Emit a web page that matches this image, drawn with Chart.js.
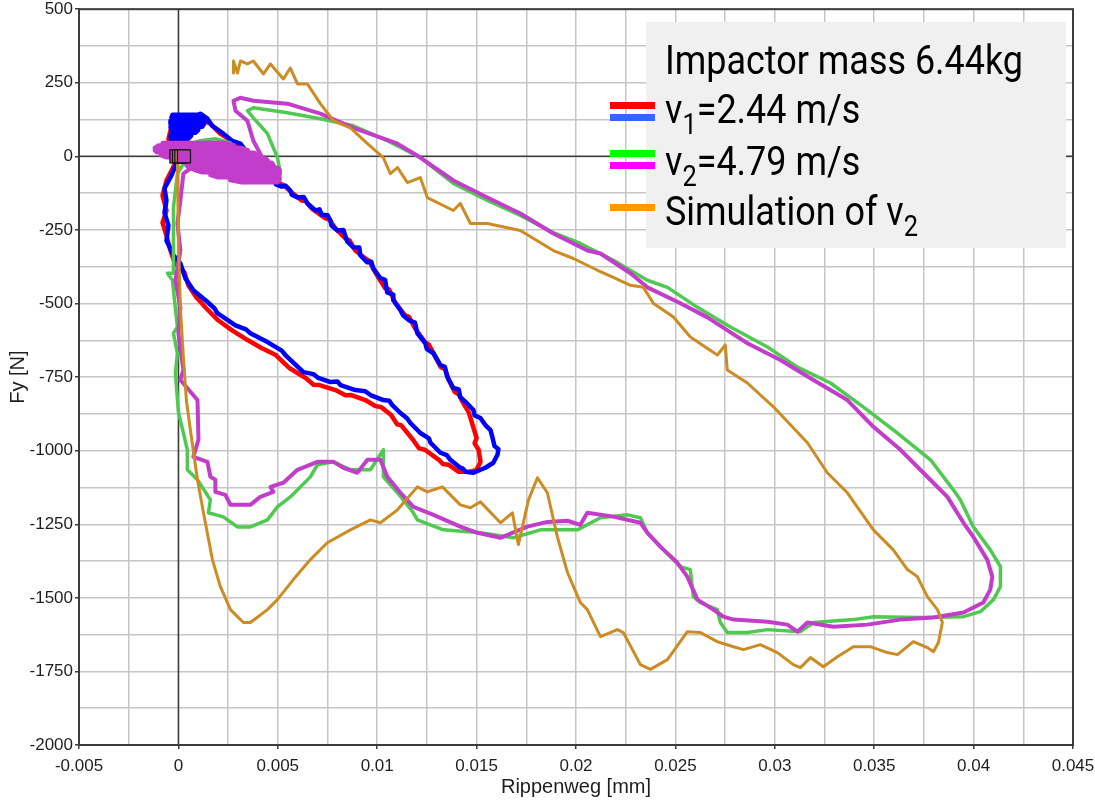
<!DOCTYPE html>
<html>
<head>
<meta charset="utf-8">
<script src="https://cdn.jsdelivr.net/npm/chart.js@4.4.0/dist/chart.umd.min.js"></script>
<style>
    html, body { margin: 0; padding: 0; background: #fff; }
    #wrap { position: relative; width: 1095px; height: 801px; overflow: hidden; }
    #chart { position: absolute; left: 0; top: -3px; }
</style>
</head>
<body>
<div id="wrap"><canvas id="chart" width="1095" height="804"></canvas></div>
<script>
// Rippenweg [mm] / Fy [N] - points lus depuis le graphique (x, y)

// v1 = 2.44 m/s, essai a (rouge)
const v1RunA = [
    [0, 0], [-0.0004, 19], [-0.0005, 60], [-0.0003, 114], [0.0001, 131], [0.0006, 131], [0.0011, 128],
    [0.0016, 111], [0.0021, 77], [0.0029, 43], [0.0034, 13], [0.0037, -14], [0.004, -48], [0.0043, -50],
    [0.0046, -76], [0.0051, -92], [0.0053, -98], [0.0057, -123], [0.0062, -150], [0.0064, -152],
    [0.0067, -177], [0.0074, -211], [0.0076, -215], [0.0079, -245], [0.0084, -279], [0.0086, -285],
    [0.0089, -320], [0.0094, -347], [0.0096, -355], [0.0099, -394], [0.0104, -448], [0.0106, -452],
    [0.0109, -496], [0.0114, -540], [0.0116, -545], [0.0119, -584], [0.0124, -631], [0.0126, -640],
    [0.0128, -665], [0.0132, -716], [0.0134, -722], [0.0136, -760], [0.0139, -801], [0.0141, -808],
    [0.0143, -835], [0.0146, -869], [0.0147, -890], [0.0148, -913], [0.015, -957], [0.0149, -975],
    [0.0151, -997], [0.0152, -1038], [0.015, -1065], [0.0146, -1072], [0.0141, -1072], [0.0136, -1048],
    [0.0133, -1045], [0.0131, -1031], [0.0124, -997], [0.0121, -992], [0.0118, -963], [0.0112, -913],
    [0.011, -910], [0.0107, -879], [0.0102, -852], [0.0099, -848], [0.0094, -828], [0.0087, -811],
    [0.0084, -812], [0.0079, -794], [0.0071, -777], [0.0068, -776], [0.0064, -753], [0.0056, -720],
    [0.0049, -675], [0.0042, -652], [0.0035, -625], [0.0027, -591], [0.002, -557], [0.0014, -516],
    [0.0009, -479], [0.0005, -438], [0.0003, -394], [-0.0002, -360], [-0.0004, -320], [-0.0006, -269],
    [-0.0008, -225], [-0.0006, -184], [-0.0008, -133], [-0.0006, -82], [-0.0003, -42], [0, 0]
];

// v1 = 2.44 m/s, essai b (bleu) - amas au-dessus de l'origine
const v1RunB = [
    [0, 0], [-0.0003, 26], [-0.0004, 70], [-0.0003, 60], [0.0005, 60], [0.00065, 70], [-0.0003, 70],
    [-0.00035, 80], [0.00086, 80], [0.001, 90], [-0.00035, 90], [-0.0004, 101], [0.0012, 101],
    [0.0013, 111], [-0.0004, 111], [-0.0004, 121], [0.00136, 121], [0.00126, 131], [-0.00035, 131],
    [-0.0003, 141], [0.001, 141], [0.0011, 145], [0.00146, 128], [0.0017, 104],
    [0.00226, 77], [0.0027, 53], [0.00312, 43], [0.0034, 19], [0.00362, -4], [0.0038, -31],
    [0.004, -55], [0.0044, -69], [0.00488, -82], [0.0049, -95], [0.0052, -103], [0.0054, -100], [0.00563, -116],
    [0.0057, -130], [0.006, -140], [0.0063, -138], [0.00649, -160], [0.0069, -184], [0.0071, -180],
    [0.0072, -198], [0.0075, -200], [0.00765, -218], [0.0077, -235], [0.008, -252], [0.0083, -250],
    [0.0084, -272], [0.0085, -290], [0.0088, -309], [0.0091, -310], [0.00915, -336], [0.0095, -360],
    [0.0097, -358], [0.0098, -380], [0.01016, -414], [0.0104, -420], [0.0105, -462], [0.0108, -470],
    [0.01081, -489], [0.01117, -523], [0.0113, -540], [0.0116, -557], [0.0119, -565], [0.01202, -601],
    [0.01242, -635], [0.0125, -655], [0.01283, -669], [0.01318, -709], [0.0134, -715], [0.01353, -750],
    [0.01383, -787], [0.0141, -792], [0.01418, -818], [0.0145, -838], [0.01484, -862], [0.0149, -880],
    [0.01519, -889], [0.01544, -913], [0.0157, -930], [0.01579, -953], [0.0159, -984], [0.0161, -995],
    [0.01605, -1014], [0.01584, -1041], [0.01544, -1058], [0.01484, -1075], [0.01444, -1072], [0.0143, -1060],
    [0.01418, -1058], [0.01368, -1031], [0.0135, -1015], [0.01318, -1007], [0.01268, -973], [0.0126, -958],
    [0.01217, -940], [0.01167, -906], [0.0115, -890], [0.01117, -872], [0.01076, -845], [0.0106, -830],
    [0.01031, -828], [0.00966, -811], [0.0094, -798], [0.0089, -794], [0.00815, -777], [0.008, -765],
    [0.00765, -767], [0.00704, -753], [0.0068, -740], [0.00629, -733], [0.00538, -675], [0.0052, -660],
    [0.00448, -631], [0.00362, -601], [0.0034, -588], [0.00287, -574], [0.00196, -533], [0.0018, -515],
    [0.00136, -489], [0.00075, -455], [0.00035, -414], [0.0001, -364], [-0.00025, -336], [-0.0006, -286],
    [-0.0005, -235], [-0.0007, -191], [-0.0006, -150], [-0.0007, -109], [-0.00035, -65], [-0.0001, -25], [0, 0]
];

// v2 = 4.79 m/s, essai a (vert)
const v2RunA = [
    [0, 0], [-0.00065, 19], [-0.00015, 29], [0.00111, 53], [0.00186, 60], [0.00262, 46], [0.00136, 19],
    [0.00035, -14], [-0.00005, -59], [-0.00025, -174], [-0.00025, -286], [-0.00025, -397], [-0.00055, -397],
    [-0.0003, -421], [-0.00005, -580], [-0.00025, -601], [-0.00005, -669], [-0.00015, -736], [0, -868],
    [0.00045, -997], [0.00045, -1065], [0.00096, -1099], [0.00161, -1167], [0.00151, -1211], [0.00226, -1225],
    [0.00297, -1259], [0.00362, -1259], [0.00448, -1235], [0.00498, -1191], [0.00563, -1157], [0.00664, -1089],
    [0.00699, -1048], [0.0078, -1038], [0.00865, -1065], [0.00966, -1065], [0.01031, -997], [0.01031, -1089],
    [0.01102, -1143], [0.01182, -1211], [0.01202, -1235], [0.01333, -1269], [0.01519, -1279], [0.01685, -1296],
    [0.01821, -1269], [0.02007, -1269], [0.02123, -1228], [0.02258, -1218], [0.02324, -1228], [0.02359, -1279],
    [0.0244, -1337], [0.02525, -1394], [0.02575, -1404], [0.0259, -1496], [0.02626, -1516], [0.02711, -1540],
    [0.02726, -1584], [0.02761, -1618], [0.02862, -1618], [0.02963, -1608], [0.03129, -1615], [0.03194, -1584],
    [0.03395, -1574], [0.03496, -1564], [0.03732, -1567], [0.03949, -1564], [0.04034, -1547], [0.041, -1506],
    [0.04135, -1462], [0.04135, -1394], [0.04084, -1337], [0.03999, -1259], [0.03933, -1167], [0.03898, -1133],
    [0.03783, -1031], [0.03617, -940], [0.03446, -852], [0.0328, -770], [0.03114, -716], [0.02963, -648],
    [0.02777, -580], [0.02611, -513], [0.0246, -445], [0.02359, -421], [0.02188, -353], [0.02022, -296],
    [0.01886, -259], [0.0172, -201], [0.01554, -150], [0.01383, -92], [0.01217, -4], [0.01051, 53],
    [0.0088, 104], [0.00714, 128], [0.00548, 148], [0.00377, 165], [0.00347, 155], [0.00377, 131],
    [0.00448, 77], [0.00498, -4], [0.00513, -55], [0.00438, -76], [0.00312, -55], [0.00186, -31],
    [0.00086, -14], [0, 0]
];

// v2 = 4.79 m/s, essai b (magenta) - le début oscille autour de l'origine
const v2RunB = [
    [0, 0], [-0.0008, 46], [0.0024, 46], [0.0028, 38], [-0.001, 38], [-0.0012, 29], [0.0032, 29],
    [0.0035, 21], [-0.0012, 21], [-0.0011, 13], [0.0038, 13], [0.004, 4], [-0.0009, 4], [-0.0006, -4],
    [0.0043, -4], [0.0045, -13], [-0.0002, -13], [0.0003, -21], [0.0047, -21], [0.0048, -30], [0.0004, -30],
    [0.0005, -38], [0.005, -38], [0.0051, -47], [0.0008, -47], [0.0012, -55], [0.0051, -55], [0.0051, -64],
    [0.0016, -64], [0.002, -72], [0.0051, -72], [0.0051, -81], [0.0026, -81], [0.0032, -89], [0.005, -89],
    [0.0006, -42], [0.00025, -59], [0.0001, -150],
    [-0.00005, -228], [0.0001, -320], [-0.00015, -421], [0.0001, -513], [0, -601], [0.00025, -726],
    [0.0001, -760], [0.00096, -828], [0.00101, -963], [0.00075, -1021], [0.00146, -1038], [0.00161, -1089],
    [0.00186, -1099], [0.00186, -1140], [0.00236, -1150], [0.00262, -1184], [0.00362, -1184], [0.00412, -1157],
    [0.00478, -1140], [0.00463, -1123], [0.00528, -1109], [0.00599, -1065], [0.00699, -1038], [0.0078, -1038],
    [0.0083, -1058], [0.009, -1075], [0.00951, -1031], [0.01016, -1031], [0.01051, -1089], [0.01117, -1143],
    [0.01182, -1191], [0.01283, -1218], [0.01418, -1258], [0.01504, -1279], [0.0162, -1296], [0.01755, -1258],
    [0.01856, -1242], [0.01957, -1238], [0.02022, -1252], [0.02057, -1211], [0.02188, -1224], [0.02324, -1245],
    [0.02359, -1279], [0.02424, -1326], [0.0251, -1381], [0.0256, -1428], [0.02611, -1506], [0.02691, -1540],
    [0.02741, -1564], [0.02792, -1574], [0.02963, -1581], [0.03063, -1591], [0.03114, -1615], [0.03164, -1584],
    [0.03295, -1598], [0.03466, -1591], [0.03632, -1574], [0.03798, -1567], [0.03949, -1550], [0.04049, -1516],
    [0.04084, -1472], [0.04094, -1428], [0.04069, -1371], [0.03999, -1293], [0.03949, -1245], [0.03868, -1157],
    [0.03747, -1075], [0.03632, -997], [0.03496, -919], [0.03365, -828], [0.03194, -760], [0.03028, -692],
    [0.02862, -635], [0.02762, -591], [0.02661, -547], [0.02525, -499], [0.02359, -445], [0.02274, -397],
    [0.02123, -330], [0.02057, -320], [0.01886, -262], [0.0172, -194], [0.01554, -140], [0.01383, -82],
    [0.01217, -4], [0.01102, 43], [0.00951, 80], [0.0088, 97], [0.00714, 145], [0.00548, 179], [0.00377, 189],
    [0.00312, 199], [0.00277, 189], [0.00287, 155], [0.00347, 121], [0.00377, 53], [0.00448, -38],
    [0.00498, -82], [0.00412, -65], [0.00262, -31], [0.00111, -14], [0, 0]
];

// Simulation de v2 (orange)
const simV2 = [
    [0, 0], [-0.00005, -15], [0, -286], [0.0001, -513], [0.00025, -682], [0.0004, -828], [0.0006, -929],
    [0.00096, -1099], [0.00126, -1211], [0.00171, -1370], [0.00211, -1462], [0.00262, -1540], [0.00327, -1584],
    [0.00362, -1584], [0.00448, -1540], [0.00498, -1506], [0.00578, -1438], [0.00664, -1370], [0.00749, -1313],
    [0.00865, -1269], [0.00966, -1235], [0.01016, -1245], [0.01102, -1201], [0.01202, -1123], [0.01252, -1140],
    [0.01328, -1123], [0.01418, -1184], [0.01469, -1194], [0.01519, -1174], [0.0162, -1245], [0.0168, -1211],
    [0.0171, -1319], [0.01761, -1167], [0.01806, -1092], [0.01856, -1143], [0.01906, -1292], [0.01957, -1414],
    [0.02022, -1516], [0.02057, -1540], [0.02123, -1632], [0.02208, -1608], [0.02238, -1618], [0.02324, -1727],
    [0.02374, -1743], [0.0246, -1710], [0.0256, -1615], [0.02626, -1618], [0.02711, -1649], [0.02792, -1666],
    [0.02842, -1676], [0.02927, -1659], [0.03013, -1686], [0.03093, -1727], [0.03129, -1737], [0.03179, -1703],
    [0.03244, -1734], [0.03315, -1700], [0.03395, -1666], [0.0348, -1666], [0.03566, -1686], [0.03617, -1693],
    [0.03697, -1649], [0.03767, -1669], [0.03798, -1683], [0.03823, -1652], [0.03843, -1584], [0.03818, -1540],
    [0.03767, -1496], [0.03717, -1428], [0.03667, -1404], [0.03596, -1337], [0.03496, -1269], [0.03365, -1143],
    [0.03264, -1075], [0.03164, -973], [0.02993, -851], [0.02862, -770], [0.02761, -726], [0.02751, -641],
    [0.02711, -675], [0.02575, -614], [0.0249, -546], [0.02389, -499], [0.02339, -445], [0.02274, -438],
    [0.02188, -411], [0.02108, -387], [0.01987, -347], [0.01886, -320], [0.0172, -252], [0.01554, -228],
    [0.01469, -228], [0.01418, -160], [0.01383, -184], [0.01252, -140], [0.01217, -72], [0.01152, -89],
    [0.01102, -38], [0.01066, -59], [0.01031, -4], [0.00951, 43], [0.00865, 97], [0.0078, 121], [0.00714, 179],
    [0.00649, 246], [0.00599, 246], [0.00563, 300], [0.00528, 263], [0.00463, 314], [0.00428, 280],
    [0.00377, 324], [0.00347, 314], [0.00312, 324], [0.00297, 283], [0.00277, 324], [0.00277, 283]
];

// Marqueurs de départ autour de l'origine
const startMarkers = [[-0.0001, 0], [0.00003, 0], [0.00015, 0], [0.00028, 0]];

// Axes
const xMin = -0.005, xMax = 0.045, xStep = 0.0025;
const yMin = -2000, yMax = 500, yStep = 125;

// Légende
const legendTitle = 'Impactor mass 6.44kg';
const legendRows = [
    { parts: [['v', false], ['1', true], ['=2.44 m/s', false]], colors: ['#ff0000', '#3366ff'] },
    { parts: [['v', false], ['2', true], ['=4.79 m/s', false]], colors: ['#00ff00', '#ff00ff'] },
    { parts: [['Simulation of v', false], ['2', true]], colors: ['#ff9900'] }
];

const toPoints = arr => arr.map(p => ({ x: p[0], y: p[1] }));

function lineDataset(label, arr, color, width) {
    return {
        label: label,
        data: toPoints(arr),
        showLine: true,
        borderColor: color,
        backgroundColor: color,
        borderWidth: width,
        pointRadius: 0,
        tension: 0,
        borderJoinStyle: 'round',
        borderCapStyle: 'round'
    };
}

// Cadre complet + lignes de zéro
const framePlugin = {
    id: 'frame',
    beforeDatasetsDraw(chart) {
        const { ctx, chartArea: a, scales } = chart;
        ctx.save();
        ctx.strokeStyle = '#3c3c3c';
        ctx.lineWidth = 1.5;
        const x0 = scales.x.getPixelForValue(0);
        const y0 = scales.y.getPixelForValue(0);
        ctx.beginPath();
        ctx.moveTo(x0, a.top); ctx.lineTo(x0, a.bottom);
        ctx.moveTo(a.left, y0); ctx.lineTo(a.right, y0);
        ctx.stroke();
        ctx.restore();
    },
    afterDraw(chart) {
        const { ctx, chartArea: a } = chart;
        ctx.save();
        ctx.strokeStyle = '#3c3c3c';
        ctx.lineWidth = 2;
        ctx.strokeRect(a.left, a.top, a.right - a.left, a.bottom - a.top);
        ctx.restore();
    }
};

// Boîte de légende dessinée à la main (coordonnées de la page, canvas décalé de 3px)
const legendPlugin = {
    id: 'legendBox',
    afterDraw(chart) {
        const ctx = chart.ctx;
        const fam = 'Roboto, "Liberation Sans", sans-serif';
        const size = 41, subSize = 29;
        ctx.save();
        ctx.translate(0, 3);
        ctx.fillStyle = '#f0f0f0';
        ctx.fillRect(646, 22, 420, 226);

        ctx.font = size + 'px ' + fam;
        const sx = 358 / ctx.measureText(legendTitle).width;
        ctx.fillStyle = '#000';
        ctx.textBaseline = 'alphabetic';

        function drawRun(parts, x, y) {
            ctx.save();
            ctx.translate(x, y);
            ctx.scale(sx, 1);
            let cx = 0;
            parts.forEach(([t, sub]) => {
                ctx.font = (sub ? subSize : size) + 'px ' + fam;
                ctx.fillText(t, cx, sub ? 11 : 0);
                cx += ctx.measureText(t).width;
            });
            ctx.restore();
        }

        drawRun([[legendTitle, false]], 665, 74);
        const baselines = [123, 175, 225];
        const swatchTops = [[102, 114], [150, 162], [204]];
        legendRows.forEach((row, i) => {
            drawRun(row.parts, 665, baselines[i]);
            row.colors.forEach((c, j) => {
                ctx.fillStyle = c;
                ctx.fillRect(610, swatchTops[i][j], 45, 7);
            });
            ctx.fillStyle = '#000';
        });
        ctx.restore();
    }
};

const axisFont = '"Liberation Sans", Arial, sans-serif';

const ctx = document.getElementById('chart').getContext('2d');
const chart = new Chart(ctx, {
    type: 'scatter',
    data: {
        datasets: [
            {
                label: 'start',
                data: toPoints(startMarkers),
                pointStyle: 'rect',
                pointRadius: 9.2,
                pointBackgroundColor: ['#c03cc8', '#b04fb0', '#c9803a', '#c03cc8'],
                pointBorderColor: '#111',
                pointBorderWidth: 1.2,
                showLine: false
            },
            lineDataset('Simulation of v2', simV2, '#cd8c23', 3),
            lineDataset('v2 b', v2RunB, '#c23dc9', 4),
            lineDataset('v2 a', v2RunA, '#4fc94f', 3.5),
            lineDataset('v1 b', v1RunB, '#0000ff', 4.5),
            lineDataset('v1 a', v1RunA, '#ff0000', 4.5)
        ]
    },
    options: {
        responsive: false,
        animation: false,
        layout: { padding: { top: 7, right: 22, left: 0, bottom: 0 } },
        plugins: {
            legend: { display: false },
            tooltip: { enabled: false }
        },
        scales: {
            x: {
                type: 'linear',
                min: xMin,
                max: xMax,
                afterFit: s => { s.height = 56; s.paddingLeft = 0; s.paddingRight = 0; },
                ticks: {
                    stepSize: xStep,
                    autoSkip: false,
                    maxRotation: 0,
                    padding: 7,
                    color: '#1e1e1e',
                    font: { family: axisFont, size: 17 },
                    callback: v => (Math.round(v / xStep) % 2 === 0) ? String(parseFloat(v.toFixed(4))) : ''
                },
                grid: {
                    color: '#c6c6c6',
                    lineWidth: 1.5,
                    tickLength: 4,
                    tickColor: c => (Math.round(c.tick.value / xStep) % 2 === 0) ? '#3c3c3c' : 'rgba(0,0,0,0)'
                },
                border: { color: '#3c3c3c', width: 2 },
                title: {
                    display: true,
                    text: 'Rippenweg [mm]',
                    color: '#1e1e1e',
                    font: { family: axisFont, size: 20 },
                    padding: { top: 0, bottom: 2 }
                }
            },
            y: {
                type: 'linear',
                min: yMin,
                max: yMax,
                afterFit: s => { s.width = 79; },
                ticks: {
                    stepSize: yStep,
                    autoSkip: false,
                    padding: 2,
                    color: '#1e1e1e',
                    font: { family: axisFont, size: 17 },
                    callback: v => (Math.round(v / yStep) % 2 === 0) ? String(v) : ''
                },
                grid: {
                    color: '#c6c6c6',
                    lineWidth: 1.5,
                    tickLength: 4,
                    tickColor: c => (Math.round(c.tick.value / yStep) % 2 === 0) ? '#3c3c3c' : 'rgba(0,0,0,0)'
                },
                border: { color: '#3c3c3c', width: 2 },
                title: {
                    display: true,
                    text: 'Fy [N]',
                    color: '#1e1e1e',
                    font: { family: axisFont, size: 20 },
                    padding: { top: 6, bottom: 0 }
                }
            }
        }
    },
    plugins: [framePlugin, legendPlugin]
});
</script>
</body>
</html>
